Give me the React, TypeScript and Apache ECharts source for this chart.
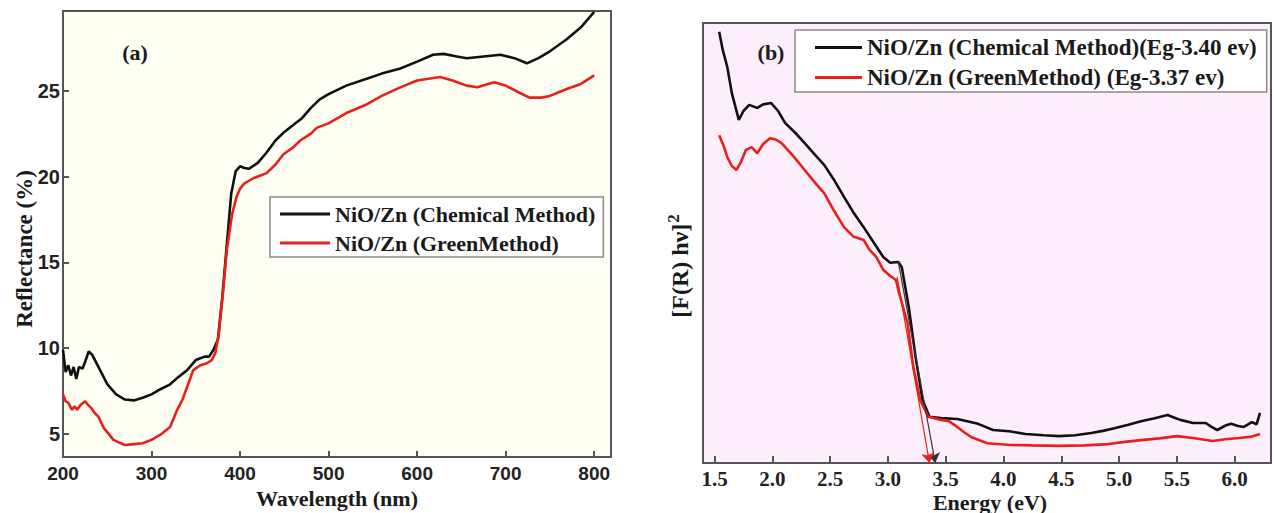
import React, { useEffect, useRef } from "react";
import * as echarts from "echarts";

// ---- Panel (a): reflectance vs wavelength ----
const chemReflectance: number[][] = [
  [200, 9.9], [203, 8.6], [206, 9.0], [209, 8.4], [212, 8.9], [215, 8.2], [218, 8.9], [222, 8.8],
  [225, 9.2], [229, 9.8], [233, 9.6], [240, 8.9], [250, 7.9], [260, 7.3], [270, 7.0], [280, 6.95],
  [290, 7.1], [300, 7.3], [310, 7.6], [320, 7.85], [330, 8.3], [340, 8.7], [350, 9.3], [360, 9.5],
  [365, 9.5], [370, 9.9], [375, 10.5], [380, 13.0], [385, 16.0], [390, 19.0], [395, 20.3], [400, 20.6],
  [405, 20.5], [410, 20.45], [420, 20.8], [430, 21.4], [440, 22.1], [450, 22.6], [460, 23.0], [470, 23.4],
  [480, 24.0], [490, 24.5], [500, 24.8], [520, 25.3], [543, 25.7], [560, 26.0], [581, 26.3], [600, 26.7],
  [618, 27.1], [630, 27.15], [645, 27.0], [656, 26.9], [675, 27.0], [694, 27.1], [710, 26.9], [724, 26.6],
  [737, 26.9], [750, 27.3], [769, 28.0], [785, 28.7], [800, 29.6],
];
const greenReflectance: number[][] = [
  [200, 7.3], [203, 6.9], [206, 6.8], [210, 6.4], [213, 6.6], [216, 6.4], [220, 6.7], [225, 6.9],
  [228, 6.7], [232, 6.5], [236, 6.2], [240, 6.0], [246, 5.35], [250, 5.1], [257, 4.65], [263, 4.5],
  [270, 4.35], [280, 4.4], [290, 4.45], [300, 4.65], [310, 4.95], [321, 5.4], [329, 6.4], [335, 7.0],
  [340, 7.7], [347, 8.7], [355, 9.0], [362, 9.1], [368, 9.3], [372, 9.7], [376, 10.8], [381, 13.4],
  [385, 15.7], [391, 17.8], [396, 18.8], [400, 19.3], [405, 19.6], [415, 19.9], [430, 20.2], [440, 20.7],
  [449, 21.3], [460, 21.7], [468, 22.1], [480, 22.5], [487, 22.85], [500, 23.1], [520, 23.7], [543, 24.2],
  [560, 24.7], [581, 25.2], [600, 25.6], [626, 25.8], [640, 25.6], [656, 25.3], [668, 25.2], [687, 25.5],
  [700, 25.3], [715, 24.9], [727, 24.6], [740, 24.6], [750, 24.7], [769, 25.1], [785, 25.4], [800, 25.9],
];

// ---- Panel (b): [F(R) hν]^2 vs energy (arbitrary units) ----
const chemTauc: number[][] = [
  [1.54, 98], [1.57, 94], [1.61, 90], [1.65, 84], [1.71, 78], [1.75, 80], [1.80, 81.4], [1.84, 81.0],
  [1.87, 80.7], [1.92, 81.5], [1.99, 81.8], [2.05, 80], [2.11, 77.3], [2.2, 75], [2.28, 72.7], [2.36, 70.3],
  [2.45, 67.7], [2.53, 64.5], [2.62, 60.5], [2.7, 57], [2.79, 53.6], [2.88, 50], [2.96, 46.8], [3.02, 45.5],
  [3.09, 45.7], [3.12, 44.5], [3.18, 35.5], [3.24, 24], [3.30, 14.3], [3.36, 10.5], [3.46, 10.2], [3.6, 10.0],
  [3.77, 9.0], [3.91, 7.5], [4.05, 7.2], [4.19, 6.6], [4.35, 6.3], [4.48, 6.1], [4.62, 6.3], [4.76, 6.8],
  [4.86, 7.3], [4.96, 7.9], [5.08, 8.7], [5.19, 9.5], [5.30, 10.1], [5.36, 10.5], [5.42, 10.9], [5.48, 10.3],
  [5.53, 9.8], [5.64, 9.1], [5.75, 9.1], [5.80, 8.2], [5.85, 7.5], [5.92, 8.5], [5.97, 8.9], [6.03, 8.4],
  [6.08, 8.2], [6.15, 9.3], [6.19, 8.8], [6.22, 11.4],
];
const greenTauc: number[][] = [
  [1.54, 74.5], [1.58, 72], [1.61, 69.5], [1.65, 67.5], [1.69, 66.6], [1.73, 68.5], [1.77, 71.1], [1.82, 71.8],
  [1.87, 70.4], [1.92, 72.5], [1.98, 73.8], [2.03, 73.5], [2.08, 72.7], [2.18, 69.8], [2.28, 66.6], [2.36, 64],
  [2.45, 61.3], [2.53, 57.5], [2.62, 53.6], [2.7, 51.5], [2.79, 50.7], [2.84, 48.5], [2.90, 46.8], [2.96, 43.9],
  [3.02, 42.5], [3.07, 41.6], [3.09, 39.3], [3.17, 31.8], [3.22, 21.8], [3.28, 14.3], [3.35, 10.5], [3.46, 9.8],
  [3.53, 9.5], [3.60, 8.2], [3.66, 7.0], [3.72, 5.9], [3.86, 4.5], [4.06, 4.1], [4.25, 4.0], [4.48, 3.9],
  [4.7, 4.0], [4.91, 4.3], [5.05, 4.8], [5.19, 5.2], [5.35, 5.6], [5.50, 6.1], [5.64, 5.7], [5.81, 5.0],
  [5.92, 5.4], [6.04, 5.7], [6.15, 6.0], [6.22, 6.6],
];

// band-gap extrapolation arrows: [start, end]
const chemGapArrow: number[][] = [[3.09, 45.7], [3.41, 0]];
const greenGapArrow: number[][] = [[3.08, 42.3], [3.36, 0]];

const leftNames = ["NiO/Zn (Chemical Method)", "NiO/Zn (GreenMethod)"];
const rightNames = ["NiO/Zn (Chemical Method)(Eg-3.40 ev)", "NiO/Zn (GreenMethod) (Eg-3.37 ev)"];

const BLACK = "#111111";
const RED = "#e8201c";
const AXIS = "#555555";
const SERIF = "'Liberation Serif', 'Times New Roman', serif";
const SANS = "'Liberation Sans', Arial, sans-serif";

const isMultiple = (v: number, step: number) => Math.abs(v / step - Math.round(v / step)) < 1e-6;

export default function App() {
  const ref = useRef<HTMLDivElement>(null);
  useEffect(() => {
    if (!ref.current) return;
    const chart = echarts.init(ref.current, undefined, { renderer: "svg" });
    const legendText = (size: number) => ({
      fontFamily: SERIF,
      fontWeight: "bold",
      fontSize: size,
      lineHeight: 20,
      color: "#1a1a1a",
    });
    const titleFont = `bold 22px ${SERIF}`;
    const option: any = {
      animation: false,
      backgroundColor: "#ffffff",
      grid: [
        { left: 63, top: 11, width: 548, height: 446, show: true, backgroundColor: "#fffff3", borderColor: AXIS, borderWidth: 2 },
        { left: 703, top: 23, width: 580, height: 440, show: true, backgroundColor: "#fdeefc", borderColor: AXIS, borderWidth: 2 },
      ],
      xAxis: [
        {
          type: "value", gridIndex: 0, min: 200, max: 819, minInterval: 100, maxInterval: 100, splitNumber: 6,
          axisLine: { show: true, onZero: false, lineStyle: { color: AXIS, width: 2 } },
          axisTick: { inside: true, length: 6, lineStyle: { color: AXIS, width: 2 } },
          axisLabel: {
            formatter: (v: number) => (isMultiple(v, 100) ? String(v) : ""),
            color: "#222", fontFamily: SANS, fontWeight: "bold", fontSize: 19, margin: 7,
          },
          splitLine: { show: false },
        },
        {
          type: "value", gridIndex: 1, min: 1.4, max: 6.315, minInterval: 0.5, maxInterval: 0.5, splitNumber: 10,
          axisLine: { show: true, onZero: false, lineStyle: { color: AXIS, width: 2 } },
          axisTick: { inside: true, length: 7, lineStyle: { color: AXIS, width: 2 } },
          axisLabel: {
            formatter: (v: number) => (isMultiple(v, 0.5) && v > 1.45 ? v.toFixed(1) : ""),
            color: "#222", fontFamily: SERIF, fontWeight: "bold", fontSize: 21, margin: 5,
          },
          splitLine: { show: false },
        },
      ],
      yAxis: [
        {
          type: "value", gridIndex: 0, min: 3.65, max: 29.65, minInterval: 5, maxInterval: 5, splitNumber: 5,
          axisLine: { show: true, onZero: false, lineStyle: { color: AXIS, width: 2 } },
          axisTick: { inside: true, length: 6, lineStyle: { color: AXIS, width: 2 } },
          axisLabel: {
            formatter: (v: number) => (isMultiple(v, 5) ? String(v) : ""),
            color: "#222", fontFamily: SANS, fontWeight: "bold", fontSize: 20, margin: 3,
          },
          splitLine: { show: false },
        },
        {
          type: "value", gridIndex: 1, min: 0, max: 100,
          axisLine: { show: true, onZero: false, lineStyle: { color: AXIS, width: 2 } },
          axisTick: { show: false },
          axisLabel: { show: false },
          splitLine: { show: false },
        },
      ],
      legend: [
        {
          data: leftNames.map((n, i) => ({ name: n, icon: "rect", itemStyle: { color: i === 0 ? BLACK : RED } })),
          left: 270, top: 197, orient: "vertical",
          itemWidth: 50, itemHeight: 3, itemGap: 7, padding: [6, 8, 3, 10],
          borderColor: "#8a8a8a", borderWidth: 1.5, backgroundColor: "#ffffff",
          textStyle: legendText(22), selectedMode: false,
        },
        {
          data: rightNames.map((n, i) => ({ name: n, icon: "rect", itemStyle: { color: i === 0 ? BLACK : RED } })),
          left: 795, top: 30, orient: "vertical",
          itemWidth: 47, itemHeight: 3, itemGap: 7, padding: [6, 10, 3, 20],
          borderColor: "#8a8a8a", borderWidth: 1.5, backgroundColor: "#ffffff",
          textStyle: legendText(23), selectedMode: false,
        },
      ],
      series: [
        {
          name: leftNames[0], type: "line", xAxisIndex: 0, yAxisIndex: 0, data: chemReflectance,
          symbol: "none", lineStyle: { color: BLACK, width: 2.6 }, itemStyle: { color: BLACK },
        },
        {
          name: leftNames[1], type: "line", xAxisIndex: 0, yAxisIndex: 0, data: greenReflectance,
          symbol: "none", lineStyle: { color: RED, width: 2.6 }, itemStyle: { color: RED },
        },
        {
          name: rightNames[0], type: "line", xAxisIndex: 1, yAxisIndex: 1, data: chemTauc,
          symbol: "none", lineStyle: { color: BLACK, width: 2.6 }, itemStyle: { color: BLACK },
          markLine: {
            silent: true, symbol: ["none", "arrow"], symbolSize: 10, label: { show: false },
            lineStyle: { color: "#333", width: 1.2, type: "solid" },
            data: [[{ coord: chemGapArrow[0] }, { coord: chemGapArrow[1] }]],
          },
        },
        {
          name: rightNames[1], type: "line", xAxisIndex: 1, yAxisIndex: 1, data: greenTauc,
          symbol: "none", lineStyle: { color: RED, width: 2.6 }, itemStyle: { color: RED },
          markLine: {
            silent: true, symbol: ["none", "arrow"], symbolSize: 10, label: { show: false },
            lineStyle: { color: RED, width: 1.2, type: "solid" },
            data: [[{ coord: greenGapArrow[0] }, { coord: greenGapArrow[1] }]],
          },
        },
      ],
      graphic: [
        {
          type: "text", x: 135, y: 52,
          style: { text: "(a)", font: `bold 22px ${SERIF}`, fill: "#1a1a1a", align: "center", verticalAlign: "middle" },
        },
        {
          type: "text", x: 771, y: 52,
          style: { text: "(b)", font: `bold 22px ${SERIF}`, fill: "#1a1a1a", align: "center", verticalAlign: "middle" },
        },
        {
          type: "text", x: 337, y: 498,
          style: { text: "Wavelength (nm)", font: titleFont, fill: "#1a1a1a", align: "center", verticalAlign: "middle" },
        },
        {
          type: "text", x: 990, y: 502,
          style: { text: "Energy (eV)", font: titleFont, fill: "#1a1a1a", align: "center", verticalAlign: "middle" },
        },
        {
          type: "text", x: 24, y: 249, rotation: Math.PI / 2,
          style: { text: "Reflectance (%)", font: `bold 23px ${SERIF}`, fill: "#1a1a1a", align: "center", verticalAlign: "middle" },
        },
        {
          type: "text", x: 680, y: 266, rotation: Math.PI / 2,
          style: {
            text: "{m|[F(R) hν]}{s|2}",
            align: "center", verticalAlign: "middle",
            rich: {
              m: { fontFamily: SERIF, fontWeight: "bold", fontSize: 24, fill: "#1a1a1a", color: "#1a1a1a" },
              s: { fontFamily: SERIF, fontWeight: "bold", fontSize: 17, fill: "#1a1a1a", color: "#1a1a1a", verticalAlign: "top", padding: [0, 0, 14, 1] },
            },
          },
        },
      ],
    };
    chart.setOption(option);
    return () => chart.dispose();
  }, []);
  return <div ref={ref} style={{ position: "absolute", left: 0, top: 0, width: 1274, height: 513 }} />;
}
